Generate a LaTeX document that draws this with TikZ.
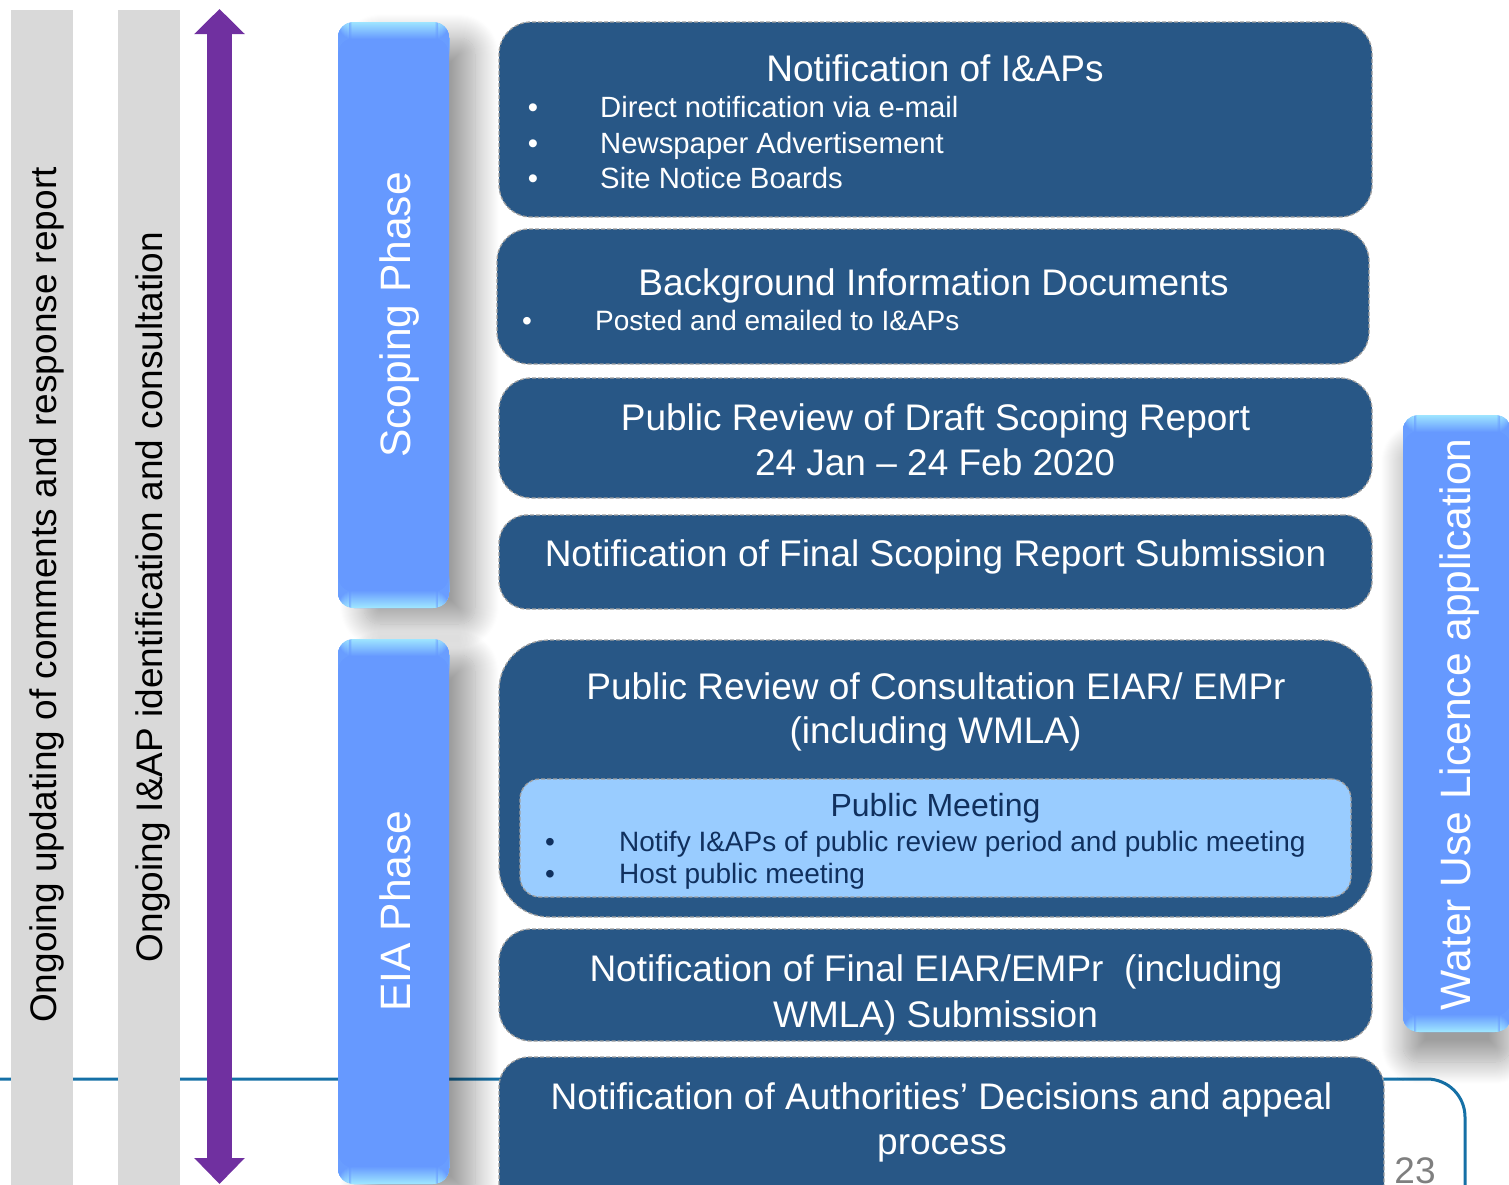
\documentclass[tikz,border=0pt]{standalone}
\usepackage{fontspec}
\setmainfont{Liberation Sans}
\usetikzlibrary{shadows.blur,arrows.meta}
\definecolor{boxblue}{HTML}{285786}
\definecolor{phaseblue}{HTML}{6699FF}
\definecolor{phaselight}{HTML}{A8F2FF}
\definecolor{barg}{HTML}{D9D9D9}
\definecolor{arrowp}{HTML}{7030A0}
\definecolor{frameblue}{HTML}{1570A6}
\definecolor{meetfill}{HTML}{99CCFF}
\definecolor{meettext}{HTML}{10305E}
\definecolor{dashgray}{HTML}{A0A0A0}
\definecolor{pagegray}{HTML}{7F7F7F}
\tikzset{
  big/.style={font=\fontsize{37}{44}\selectfont},
  phasefont/.style={font=\fontsize{42.5}{50}\selectfont},
  small/.style={font=\fontsize{28}{34}\selectfont},
  smallb/.style={font=\fontsize{29.3}{35}\selectfont},
  mid/.style={font=\fontsize{32}{38}\selectfont},
  wtxt/.style={text=white, inner sep=0pt},
  darkbox/.style={draw=dashgray, line width=1.3pt, dash pattern=on 4pt off 2pt,
    fill=boxblue, rounded corners=#1, inner sep=0pt},
  darkbox/.default=32pt,
  meetbox/.style={draw=dashgray, line width=1.3pt, dash pattern=on 4pt off 2pt,
    fill=meetfill, rounded corners=20pt, inner sep=0pt},
  graybar/.style={fill=barg, inner sep=0pt, minimum width=62pt},
  phasebar/.style={fill=phaseblue, rounded corners=16pt, inner sep=0pt,
    path picture={
      \foreach \i [evaluate=\i as \p using {int(85-5*\i)}] in {0,...,16}{
        \fill[phaselight!\p!phaseblue]
          ([yshift=-\i pt]path picture bounding box.north west) rectangle
          ([yshift=-\i pt-1.2pt]path picture bounding box.north east);
        \fill[phaselight!\p!phaseblue]
          ([yshift=\i pt]path picture bounding box.south west) rectangle
          ([yshift=\i pt+1.2pt]path picture bounding box.south east);
      }
    }},
  barshadow/.style={blur shadow={shadow xshift=26pt, shadow yshift=-16pt,
    shadow blur radius=24pt, shadow blur steps=24, shadow opacity=38}},
  vtext/.style={rotate=90, anchor=base, inner sep=0pt},
}
\begin{document}
\begin{tikzpicture}[x=1pt,y=-1pt]
\useasboundingbox (0,0) rectangle (1509,1184);

% frame line
\coordinate (fl) at (0,1079);
\coordinate (fc) at (1465,1079);
\coordinate (fb) at (1465,1220);
\draw[frameblue, line width=3pt, rounded corners=38pt] (fl) -- (fc) -- (fb);

% gray bars with rotated texts
\node[graybar, minimum height=1184pt] (g1) at (42,602) {};
\node[graybar, minimum height=1184pt] (g2) at (149,602) {};
\node[big, vtext] (g1t) at (56,595) {Ongoing updating of comments and response report};
\node[big, vtext] (g2t) at (162,597) {Ongoing I\&AP identification and consultation};

% purple double arrow
\coordinate (atop) at (219.5,9);
\coordinate (abot) at (219.5,1184);
\draw[arrowp, line width=25pt, {Triangle[width=49pt,length=25pt]}-{Triangle[width=49pt,length=26pt]}] (atop) -- (abot);

% phase bars
\node[phasebar, barshadow, minimum width=111pt, minimum height=586pt] (scop) at (393.5,315) {};
\node[phasebar, barshadow, minimum width=111pt, minimum height=545pt] (eia) at (393.5,911.5) {};
\node[phasebar, blur shadow={shadow xshift=0pt, shadow yshift=-30pt, shadow blur radius=22pt,
      shadow blur steps=24, shadow opacity=38},
      minimum width=108pt, minimum height=617pt] (wul) at (1457,723.5) {};
\node[phasefont, vtext, text=white] (scopt) at (410,315) {Scoping Phase};
\node[phasefont, vtext, text=white] (eiat) at (410,911) {EIA Phase};
\node[phasefont, vtext, text=white] (wult) at (1470,724.5) {Water Use Licence application};

% box 1
\node[darkbox, minimum width=873pt, minimum height=195pt] (b1) at (935.5,119.5) {};
\node[big, wtxt, anchor=base] (b1t) at (935,81) {Notification of I\&APs};
\node[smallb, wtxt, anchor=base] (b1d1) at (533,117) {•};
\node[smallb, wtxt, anchor=base west] (b1l1) at (600,117) {Direct notification via e-mail};
\node[smallb, wtxt, anchor=base] (b1d2) at (533,153) {•};
\node[smallb, wtxt, anchor=base west] (b1l2) at (600,153) {Newspaper Advertisement};
\node[smallb, wtxt, anchor=base] (b1d3) at (533,188) {•};
\node[smallb, wtxt, anchor=base west] (b1l3) at (600,188) {Site Notice Boards};

% box 2
\node[darkbox, minimum width=872pt, minimum height=135pt] (b2) at (933,296.5) {};
\node[big, wtxt, anchor=base] (b2t) at (933.5,295) {Background Information Documents};
\node[small, wtxt, anchor=base] (b2d1) at (527,330) {•};
\node[small, wtxt, anchor=base west] (b2l1) at (595,330) {Posted and emailed to I\&APs};

% box 3
\node[darkbox, minimum width=873pt, minimum height=120pt] (b3) at (935.5,438) {};
\node[big, wtxt, anchor=base] (b3t1) at (935.5,430) {Public Review of Draft Scoping Report};
\node[big, wtxt, anchor=base] (b3t2) at (935,475) {24 Jan – 24 Feb 2020};

% box 4
\node[darkbox=28pt, minimum width=873pt, minimum height=94pt] (b4) at (935.5,562) {};
\node[big, wtxt, anchor=base] (b4t) at (935.5,566) {Notification of Final Scoping Report Submission};

% box 5
\node[darkbox=50pt, minimum width=873pt, minimum height=277pt] (b5) at (935.5,778.5) {};
\node[big, wtxt, anchor=base] (b5t1) at (936,699) {Public Review of Consultation EIAR/ EMPr};
\node[big, wtxt, anchor=base] (b5t2) at (935.5,743) {(including WMLA)};
\node[meetbox, minimum width=831pt, minimum height=118pt] (m) at (935.5,838) {};
\node[mid, text=meettext, inner sep=0pt, anchor=base] (mt) at (935.5,816) {Public Meeting};
\node[small, text=meettext, inner sep=0pt, anchor=base] (md1) at (550,851) {•};
\node[small, text=meettext, inner sep=0pt, anchor=base west] (ml1) at (619,851) {Notify I\&APs of public review period and public meeting};
\node[small, text=meettext, inner sep=0pt, anchor=base] (md2) at (550,883) {•};
\node[small, text=meettext, inner sep=0pt, anchor=base west] (ml2) at (619,883) {Host public meeting};

% box 6
\node[darkbox, minimum width=873pt, minimum height=112pt] (b6) at (935.5,985) {};
\node[big, wtxt, anchor=base] (b6t1) at (936,981) {Notification of Final EIAR/EMPr\ \ (including};
\node[big, wtxt, anchor=base] (b6t2) at (935.5,1027) {WMLA) Submission};

% box 7
\node[darkbox=30pt, minimum width=885pt, minimum height=160pt] (b7) at (941.5,1137) {};
\node[big, wtxt, anchor=base] (b7t1) at (941.5,1109) {Notification of Authorities’ Decisions and appeal};
\node[big, wtxt, anchor=base] (b7t2) at (942,1154) {process};

% page number
\node[big, text=pagegray, inner sep=0pt, anchor=base] (pg) at (1415,1183) {23};
\end{tikzpicture}
\end{document}
